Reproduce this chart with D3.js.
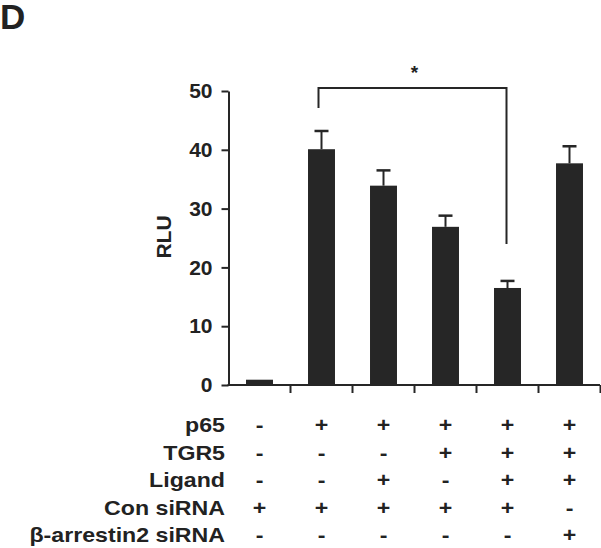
<!DOCTYPE html>
<html>
<head>
<meta charset="utf-8">
<script src="https://cdn.jsdelivr.net/npm/d3@7"></script>
<style>
  html, body { margin: 0; padding: 0; background: #fff; }
  svg { display: block; }
  text { font-family: "Liberation Sans", Arial, sans-serif; font-weight: bold; fill: #222; }
</style>
</head>
<body>
<svg id="chart" width="601" height="548"></svg>
<script>
// ---- data ----
const categories = ["c1", "c2", "c3", "c4", "c5", "c6"];
const values = [0.9, 40.1, 33.9, 26.9, 16.5, 37.7];
const errors = [0, 3.1, 2.6, 1.9, 1.2, 2.9];
const yTicks = [0, 10, 20, 30, 40, 50];
const rowLabels = ["p65", "TGR5", "Ligand", "Con siRNA", "β-arrestin2 siRNA"];
const p65 = ["-", "+", "+", "+", "+", "+"];
const tgr5 = ["-", "-", "-", "+", "+", "+"];
const ligand = ["-", "-", "+", "-", "+", "+"];
const conSiRNA = ["+", "+", "+", "+", "+", "-"];
const arrestinSiRNA = ["-", "-", "-", "-", "-", "+"];
const sigFrom = 1, sigTo = 4, sigLevel = 50.5, sigLeftEnd = 47.1, sigRightEnd = 24, sigLabel = "*";
const panelLabel = "D";
const yLabel = "RLU";

const rows = [p65, tgr5, ligand, conSiRNA, arrestinSiRNA];
const ink = "#262626";

const svg = d3.select("#chart");

const x = d3.scaleBand().domain(categories).range([228.5, 600.5]).paddingInner(0.565).paddingOuter(0.2825);
const y = d3.scaleLinear().domain([0, 50]).range([385, 91]);
const cx = c => x(c) + x.bandwidth() / 2;

// panel label
svg.append("text").attr("x", 0).attr("y", 29).attr("font-size", 35).text(panelLabel);

// y axis
const yAxis = svg.append("g").attr("transform", "translate(228.5,0)")
  .call(d3.axisLeft(y).tickValues(yTicks).tickSize(7).tickSizeOuter(0).tickPadding(9));
yAxis.select(".domain").attr("stroke", ink).attr("stroke-width", 2);
yAxis.selectAll(".tick line").attr("stroke", ink).attr("stroke-width", 2);
yAxis.selectAll(".tick text").attr("font-size", 21).attr("font-family", "'Liberation Sans', Arial, sans-serif")
  .attr("font-weight", "bold").attr("fill", "#222");

// y label
svg.append("text").attr("transform", "translate(171,237) rotate(-90)")
  .attr("text-anchor", "middle").attr("font-size", 21).text(yLabel);

// x axis line + boundary ticks
svg.append("line").attr("x1", 227.5).attr("x2", 600).attr("y1", y(0)).attr("y2", y(0))
  .attr("stroke", ink).attr("stroke-width", 2);
svg.selectAll(".xtick").data(categories).join("line").attr("class", "xtick")
  .attr("x1", c => cx(c) + x.step() / 2).attr("x2", c => cx(c) + x.step() / 2)
  .attr("y1", y(0)).attr("y2", y(0) + 8)
  .attr("stroke", ink).attr("stroke-width", 2);

// bars
svg.selectAll(".bar").data(categories).join("rect").attr("class", "bar")
  .attr("x", c => x(c)).attr("width", x.bandwidth())
  .attr("y", (c, i) => y(values[i])).attr("height", (c, i) => y(0) - y(values[i]))
  .attr("fill", ink);

// error bars (upper)
categories.forEach((c, i) => {
  if (errors[i] <= 0) return;
  const top = y(values[i] + errors[i]);
  svg.append("line").attr("x1", cx(c)).attr("x2", cx(c)).attr("y1", y(values[i])).attr("y2", top)
    .attr("stroke", ink).attr("stroke-width", 2);
  svg.append("line").attr("x1", cx(c) - 7).attr("x2", cx(c) + 7).attr("y1", top).attr("y2", top)
    .attr("stroke", ink).attr("stroke-width", 2.5);
});

// significance bracket
const xa = cx(categories[sigFrom]) - 3, xb = cx(categories[sigTo]) - 1;
svg.append("path")
  .attr("d", `M${xa},${y(sigLeftEnd)}V${y(sigLevel)}H${xb}V${y(sigRightEnd)}`)
  .attr("fill", "none").attr("stroke", ink).attr("stroke-width", 2);
svg.append("text").attr("x", (xa + xb) / 2 + 2).attr("y", 79).attr("text-anchor", "middle")
  .attr("font-size", 19).text(sigLabel);

// condition table
const rowY = [432, 459.5, 487, 514.5, 542];
rowLabels.forEach((lab, r) => {
  svg.append("text").attr("transform", `translate(225,${rowY[r]}) scale(1.13,1)`)
    .attr("text-anchor", "end").attr("font-size", 20.5).text(lab);
  categories.forEach((c, i) => {
    svg.append("text").attr("transform", `translate(${cx(c)},${rowY[r]}) scale(1.13,1)`)
      .attr("text-anchor", "middle").attr("font-size", 20.5).text(rows[r][i]);
  });
});
</script>
</body>
</html>
